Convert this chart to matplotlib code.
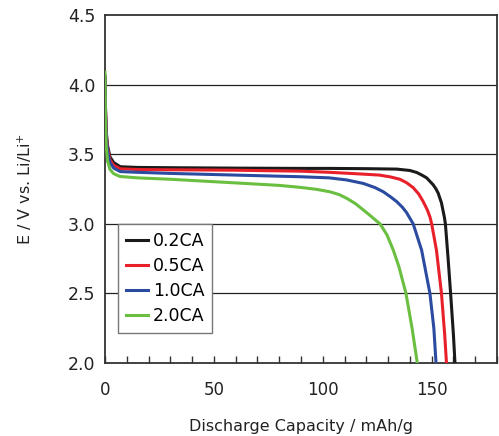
import numpy as np
import matplotlib.pyplot as plt
from matplotlib.ticker import MultipleLocator

plt.rcParams['font.family'] = ['DejaVu Sans']
plt.rcParams['mathtext.fontset'] = 'dejavusans'

labels = ['0.2CA', '0.5CA', '1.0CA', '2.0CA']
colors = ['#1a1a1a', '#e8202a', '#2b4ba0', '#6abf40']

x_02 = [0, 0.2, 0.6, 1.2, 2.3, 4, 7, 15, 30, 60, 90, 103, 120, 134, 140, 143.1, 145.5, 147.7,
        149.5, 150.7, 152, 153, 154.5, 155.8, 156.3, 157.5, 158.7, 160, 160.7]
y_02 = [4.06, 3.85, 3.66, 3.56, 3.48, 3.44, 3.41, 3.405, 3.403, 3.40, 3.398, 3.398, 3.396, 3.393,
        3.383, 3.369, 3.35, 3.33, 3.30, 3.28, 3.25, 3.22, 3.15, 3.05, 3.0, 2.76, 2.5, 2.2, 2.0]

x_05 = [0, 0.2, 0.6, 1.2, 2.3, 4, 7, 15, 30, 60, 90, 103, 115, 126, 131, 135.4, 138.5, 141.5,
        144, 146.1, 148, 149.2, 150, 152.2, 154.5, 156, 156.8]
y_05 = [4.05, 3.83, 3.64, 3.54, 3.46, 3.42, 3.395, 3.39, 3.388, 3.385, 3.378, 3.37, 3.36, 3.35,
        3.337, 3.32, 3.295, 3.26, 3.215, 3.16, 3.10, 3.05, 3.0, 2.81, 2.5, 2.2, 2.0]

x_10 = [0, 0.2, 0.6, 1.2, 2.3, 4, 7, 15, 30, 60, 90, 103, 111, 118.6, 124, 127.8, 131, 133.9,
        136.5, 138.5, 141.5, 145.4, 149.2, 151, 152]
y_10 = [4.05, 3.82, 3.62, 3.52, 3.44, 3.40, 3.375, 3.37, 3.362, 3.35, 3.338, 3.33, 3.315, 3.29,
        3.26, 3.23, 3.195, 3.16, 3.12, 3.08, 3.0, 2.81, 2.5, 2.25, 2.0]

x_20 = [0, 0.2, 0.6, 1.2, 2.3, 4, 6.9, 15, 30, 52.8, 70, 80, 89.5, 97, 103.3, 107.5, 111, 115,
        118.6, 121.7, 124.7, 126.3, 129.5, 132.4, 135, 138.2, 141, 143.4]
y_20 = [4.09, 3.75, 3.55, 3.45, 3.39, 3.36, 3.34, 3.33, 3.32, 3.30, 3.285, 3.276, 3.262, 3.248,
        3.23, 3.21, 3.183, 3.145, 3.10, 3.06, 3.02, 3.0, 2.92, 2.81, 2.69, 2.5, 2.25, 2.0]

series = [(x_02, y_02), (x_05, y_05), (x_10, y_10), (x_20, y_20)]

fig = plt.figure(figsize=(4.99, 4.36), dpi=100)
ax = fig.add_axes([0.2104, 0.1674, 0.7856, 0.7982])

for y in [2.5, 3.0, 3.5, 4.0]:
    ax.axhline(y, color='#222222', lw=0.9, zorder=1)

for (xs, ys), lab, c in zip(series, labels, colors):
    ax.plot(xs, ys, color=c, lw=2.2, label=lab, zorder=3, solid_joinstyle='round')

ax.set_xlim(0, 180)
ax.set_ylim(2.0, 4.5)
ax.xaxis.set_major_locator(MultipleLocator(50))
ax.xaxis.set_minor_locator(MultipleLocator(10))
ax.yaxis.set_major_locator(MultipleLocator(0.5))
ax.yaxis.set_major_formatter(plt.FormatStrFormatter('%.1f'))
ax.tick_params(axis='x', which='both', direction='in', length=5, width=1, color='#333333',
               labelsize=12, pad=13, labelcolor='#222222')
ax.tick_params(axis='y', length=0, labelsize=12.5, pad=7, labelcolor='#222222')
for s in ax.spines.values():
    s.set_color('#333333')
    s.set_linewidth(1.3)

ax.set_xlabel('Discharge Capacity / mAh/g', fontsize=11.5, labelpad=14, color='#222222')
ax.set_ylabel('E / V vs. Li/Li$^{+}$', fontsize=11.5, labelpad=24, color='#222222')

leg = ax.legend(loc='upper left', bbox_to_anchor=(0.033, 0.4), fontsize=12.5,
                frameon=True, fancybox=False, edgecolor='#777777', framealpha=1,
                handlelength=1.3, handletextpad=0.25, labelspacing=0.42,
                borderpad=0.45, borderaxespad=0)
leg.get_frame().set_linewidth(1.0)
leg.set_zorder(5)

fig.savefig('out.png', dpi=100)
